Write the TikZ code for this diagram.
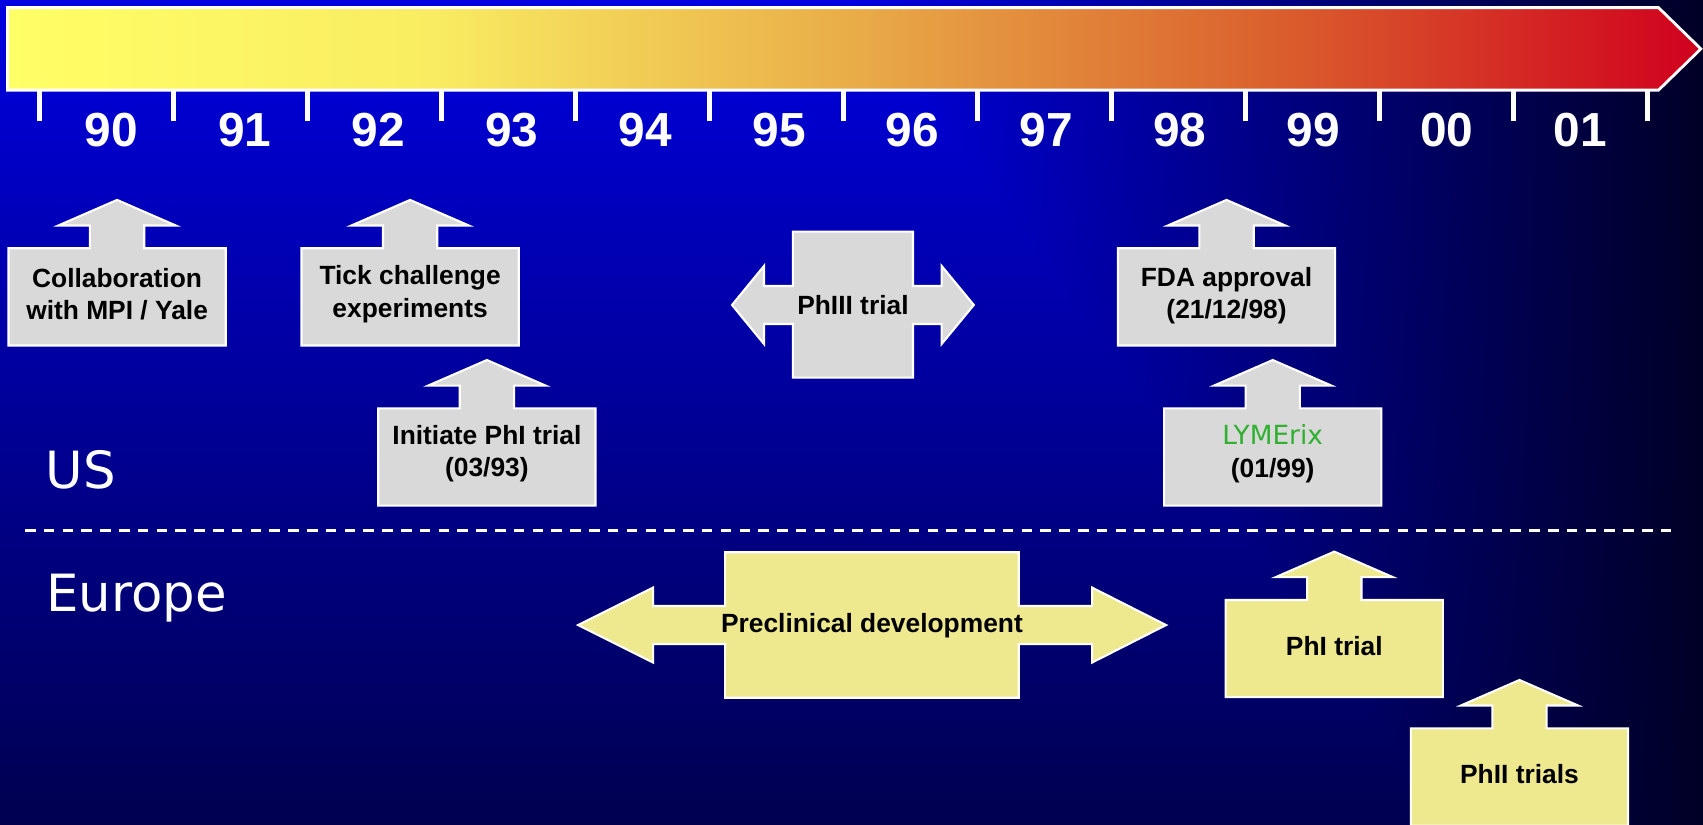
\documentclass[tikz,border=0pt]{standalone}
\usepackage{fontspec}
\setmainfont{Liberation Sans}
\newfontfamily\regionfont{DejaVu Sans}

\definecolor{boxgrey}{RGB}{217,217,217}
\definecolor{boxkhaki}{RGB}{238,232,142}
\definecolor{lymegreen}{RGB}{48,176,48}
\definecolor{barA}{RGB}{255,255,102}
\definecolor{barB}{RGB}{249,236,98}
\definecolor{barC}{RGB}{233,172,72}
\definecolor{barD}{RGB}{218,95,45}
\definecolor{barE}{RGB}{208,0,30}

\pgfdeclarehorizontalshading{yearbar}{100bp}{color(0bp)=(barA); color(25bp)=(barA); color(37.5bp)=(barB); color(50bp)=(barC); color(62.5bp)=(barD); color(75bp)=(barE); color(100bp)=(barE)}

\pgfdeclarefunctionalshading{slidebg}{\pgfpointorigin}{\pgfpoint{100bp}{100bp}}{}{
  25 sub 2 mul exch 25 sub 2 mul exch
  dup 0.0057 mul 0.31 add
  exch 0.0035 mul 0.85 exch sub
  3 -1 roll 0.01 mul
  1 index sub
  exch 1 exch sub
  div
  dup 0 lt {pop 0} if
  dup 1 gt {pop 1} if
  1 index 0.15 exch sub
  mul add
  0 0 3 -1 roll
}

\newcommand{\upcallout}[3]{%
  \draw[boxline,fill=#3] (#1-100,#2) -- (#1-25,#2) -- (#1-25,#2-21) -- (#1-54,#2-21) -- (#1,#2-44.5)
    -- (#1+54,#2-21) -- (#1+25,#2-21) -- (#1+25,#2) -- (#1+100,#2) -- (#1+100,#2+89.5) -- (#1-100,#2+89.5) -- cycle;}

\begin{document}
\begin{tikzpicture}[x=0.10861mm,y=-0.10861mm,
  boxline/.style={draw=white,line width=0.6pt},
  boxtext/.style={font=\fontsize{7.5}{9.2}\selectfont\bfseries,align=center,inner sep=0pt},
  yearlabel/.style={font=\fontsize{13.6}{16}\selectfont\bfseries,text=white,anchor=base,inner sep=0pt},
  regionlabel/.style={font=\regionfont\fontsize{14.6}{16}\selectfont,text=white,anchor=base west,inner sep=0pt},
  tickline/.style={white,line width=1.4pt}]

  \useasboundingbox (0,0) rectangle (1568,759);
  \shade[shading=slidebg] (0,0) rectangle (1568,759);

  \shadedraw[shading=yearbar,draw=white,line width=0.8pt] (7,7) -- (1527,7) -- (1566,45) -- (1527,83) -- (7,83) -- cycle;
  \foreach \i in {0,...,12}
    \draw[tickline] (36.3+123.4*\i,83) -- (36.3+123.4*\i,111);
  \foreach \yr [count=\i from 0] in {90,91,92,93,94,95,96,97,98,99,00,01}
    \node[yearlabel] (year\yr) at (102.5+122.95*\i,134.5) {\yr};

  \upcallout{107.8}{228.6}{boxgrey}
  \upcallout{377.6}{228.6}{boxgrey}
  \upcallout{448.3}{376}{boxgrey}
  \upcallout{1129.3}{228.6}{boxgrey}
  \upcallout{1171.8}{376}{boxgrey}
  \upcallout{1228.5}{552.4}{boxkhaki}
  \upcallout{1399}{670.6}{boxkhaki}

  \draw[boxline,fill=boxgrey] (730,213.3) -- (840.6,213.3) -- (840.6,263.3) -- (867,263.3) -- (867,244.9) -- (896.6,280.8)
    -- (867,316.7) -- (867,298.3) -- (840.6,298.3) -- (840.6,347.7) -- (730,347.7) -- (730,298.3) -- (703.4,298.3)
    -- (703.4,316.7) -- (674,280.8) -- (703.4,244.9) -- (703.4,263.3) -- (730,263.3) -- cycle;
  \draw[boxline,fill=boxkhaki] (667.6,508.5) -- (938,508.5) -- (938,558) -- (1005.5,558) -- (1005.5,541) -- (1073.6,575.5)
    -- (1005.5,610) -- (1005.5,593) -- (938,593) -- (938,642.4) -- (667.6,642.4) -- (667.6,593) -- (601.3,593)
    -- (601.3,610) -- (532.2,575.5) -- (601.3,541) -- (601.3,558) -- (667.6,558) -- cycle;

  \draw[white,line width=0.85pt,dash pattern=on 3pt off 2.35pt] (23,488) -- (1541,488);

  \node[boxtext] (collab) at (107.8,271) {Collaboration\\with MPI / Yale};
  \node[boxtext] (tick) at (377.6,271) {Tick challenge\\experiments};
  \node[boxtext] (phIinit) at (448.3,418) {Initiate PhI trial\\(03/93)};
  \node[boxtext] (phIII) at (785.3,280.5) {PhIII trial};
  \node[boxtext] (fda) at (1129.3,272) {FDA approval\\(21/12/98)};
  \node[boxtext] (lymerix) at (1171.8,417.7) {{\regionfont\mdseries\color{lymegreen}LYMErix}\\(01/99)};
  \node[boxtext] (preclin) at (802.8,576) {Preclinical development};
  \node[boxtext] (phIeu) at (1228.5,595) {PhI trial};
  \node[boxtext] (phIIeu) at (1399,713) {PhII trials};

  \node[regionlabel] (us) at (41.5,450) {US};
  \node[regionlabel] (europe) at (42,563) {Europe};
\end{tikzpicture}
\end{document}
